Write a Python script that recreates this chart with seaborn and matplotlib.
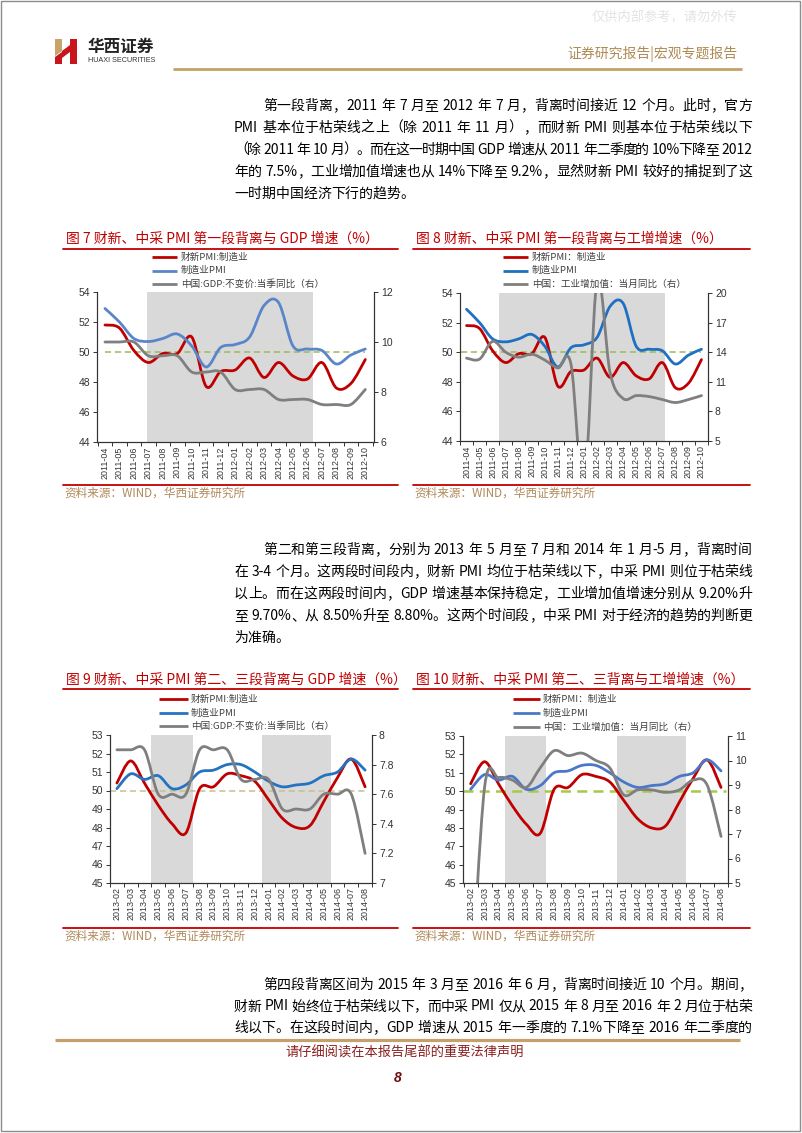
import numpy as np
import matplotlib
matplotlib.use('Agg')
import matplotlib.pyplot as plt
import seaborn as sns
from matplotlib.path import Path
from matplotlib.patches import PathPatch, Rectangle, Polygon
from matplotlib.font_manager import FontProperties

sns.set_theme(style='ticks')
plt.rcParams['font.family'] = ['Noto Sans CJK SC', 'DejaVu Sans']
plt.rcParams['axes.unicode_minus'] = False

W, H = 802, 1133

# ---------------- 数据 ----------------
months_a = ['2011-04', '2011-05', '2011-06', '2011-07', '2011-08', '2011-09', '2011-10',
            '2011-11', '2011-12', '2012-01', '2012-02', '2012-03', '2012-04', '2012-05',
            '2012-06', '2012-07', '2012-08', '2012-09', '2012-10']
caixin_a = [51.8, 51.6, 50.1, 49.3, 49.9, 49.9, 51.0, 47.7, 48.7, 48.8,
            49.6, 48.3, 49.3, 48.4, 48.2, 49.3, 47.6, 47.9, 49.5]
official_a = [52.9, 52.0, 50.9, 50.7, 50.9, 51.2, 50.4, 49.0, 50.3, 50.5,
              51.0, 53.1, 53.3, 50.4, 50.2, 50.1, 49.2, 49.8, 50.2]
gdp_a = [10.0, 10.0, 10.0, 9.45, 9.45, 9.45, 8.8, 8.8, 8.8, 8.1,
         8.1, 8.1, 7.7, 7.7, 7.7, 7.5, 7.5, 7.5, 8.1]
iva_a = [13.4, 13.3, 15.1, 14.0, 13.5, 13.8, 13.2, 12.4, 12.8, 0.0,
         21.3, 11.9, 9.3, 9.6, 9.5, 9.2, 8.9, 9.2, 9.6]

months_b = ['2013-02', '2013-03', '2013-04', '2013-05', '2013-06', '2013-07', '2013-08',
            '2013-09', '2013-10', '2013-11', '2013-12', '2014-01', '2014-02', '2014-03',
            '2014-04', '2014-05', '2014-06', '2014-07', '2014-08']
caixin_b = [50.4, 51.6, 50.4, 49.2, 48.2, 47.7, 50.1, 50.2, 50.9, 50.8,
            50.5, 49.5, 48.5, 48.0, 48.1, 49.4, 50.7, 51.7, 50.2]
official_b = [50.1, 50.9, 50.6, 50.8, 50.1, 50.3, 51.0, 51.1, 51.4, 51.4,
              51.0, 50.5, 50.2, 50.3, 50.4, 50.8, 51.0, 51.7, 51.1]
gdp_b = [7.9, 7.9, 7.9, 7.6, 7.6, 7.6, 7.9, 7.9, 7.9, 7.7,
         7.7, 7.7, 7.5, 7.5, 7.5, 7.6, 7.6, 7.6, 7.2]
iva_b = [0.0, 8.9, 9.3, 9.2, 8.9, 9.7, 10.4, 10.2, 10.3, 10.0,
         9.7, 8.6, 8.8, 8.8, 8.7, 8.8, 9.2, 9.0, 6.9]

legend_gdp_a = ['财新PMI:制造业', '制造业PMI', '中国:GDP:不变价:当季同比（右）']
legend_iva = ['财新PMI：制造业', '制造业PMI', '中国：工业增加值：当月同比（右）']

para1 = ['第一段背离，2011 年 7 月至 2012 年 7 月，背离时间接近 12 个月。此时，官方',
         'PMI 基本位于枯荣线之上（除 2011 年 11 月），而财新 PMI 则基本位于枯荣线以下',
         '（除 2011 年 10 月）。而在这一时期中国 GDP 增速从 2011 年二季度的 10%下降至 2012',
         '年的 7.5%，工业增加值增速也从 14%下降至 9.2%，显然财新 PMI 较好的捕捉到了这',
         '一时期中国经济下行的趋势。']
para2 = ['第二和第三段背离，分别为 2013 年 5 月至 7 月和 2014 年 1 月-5 月，背离时间',
         '在 3-4 个月。这两段时间段内，财新 PMI 均位于枯荣线以下，中采 PMI 则位于枯荣线',
         '以上。而在这两段时间内，GDP 增速基本保持稳定，工业增加值增速分别从 9.20%升',
         '至 9.70%、从 8.50%升至 8.80%。这两个时间段，中采 PMI 对于经济的趋势的判断更',
         '为准确。']
para3 = ['第四段背离区间为 2015 年 3 月至 2016 年 6 月，背离时间接近 10 个月。期间，',
         '财新 PMI 始终位于枯荣线以下，而中采 PMI 仅从 2015 年 8 月至 2016 年 2 月位于枯荣',
         '线以下。在这段时间内，GDP 增速从 2015 年一季度的 7.1%下降至 2016 年二季度的']

RED = '#c00000'
GRAY = '#7f7f7f'
SHADE = '#d9d9d9'
GOLD = '#c4a06a'

fig = plt.figure(figsize=(W / 100, H / 100), dpi=100)
page = fig.add_axes([0, 0, 1, 1])
page.set_xlim(0, W)
page.set_ylim(H, 0)
page.axis('off')
page.set_zorder(0)


def smooth_patch(x, y, color, lw):
    # Excel 风格平滑曲线（贝塞尔）
    n = len(x)
    verts = [(x[0], y[0])]
    codes = [Path.MOVETO]
    for i in range(n - 1):
        a = max(i - 1, 0)
        b = min(i + 2, n - 1)
        c1 = (x[i] + (x[i + 1] - x[a]) / 6, y[i] + (y[i + 1] - y[a]) / 6)
        c2 = (x[i + 1] - (x[b] - x[i]) / 6, y[i + 1] - (y[b] - y[i]) / 6)
        verts += [c1, c2, (x[i + 1], y[i + 1])]
        codes += [Path.CURVE4] * 3
    return PathPatch(Path(verts, codes), fill=False, edgecolor=color, lw=lw,
                     capstyle='round', joinstyle='round')


def draw_chart(box, labels, red, blue, gray, ylim_l, ticks_l, ylim_r, ticks_r,
               spans, xlim, blue_c, dash_c, dash_x, dash_lw=1.1):
    x0, x1, y0, y1 = box
    ax = fig.add_axes([x0 / W, 1 - y1 / H, (x1 - x0) / W, (y1 - y0) / H])
    ax.set_zorder(2)
    ax2 = ax.twinx()
    ax2.set_zorder(3)
    ax2.patch.set_visible(False)
    idx = np.arange(len(labels))
    for a, b in spans:
        ax.axvspan(a, b, color=SHADE, lw=0, zorder=0)
    ax.hlines(50, dash_x[0], dash_x[1], colors=dash_c, linestyles=(0, (4, 2.5)),
              lw=dash_lw, zorder=1)
    ax.add_patch(smooth_patch(idx, np.array(red), RED, 2.0))
    ax.add_patch(smooth_patch(idx, np.array(blue), blue_c, 2.0))
    ax2.add_patch(smooth_patch(idx, np.array(gray), GRAY, 2.0))
    ax.set_xlim(*xlim)
    ax.set_ylim(*ylim_l)
    ax2.set_ylim(*ylim_r)
    ax.set_yticks(ticks_l)
    ax.set_yticklabels([f'{v:g}' for v in ticks_l], fontsize=7.5,
                       family='Liberation Sans', color='#333333')
    ax2.set_yticks(ticks_r)
    ax2.set_yticklabels([f'{v:g}' for v in ticks_r], fontsize=7.5,
                        family='Liberation Sans', color='#333333')
    ax.set_xticks(idx)
    ax.set_xticklabels(labels, rotation=90, fontsize=6.4,
                       family='Liberation Sans', color='#333333')
    ax.set_xticks(np.arange(-0.5, len(labels), 1), minor=True)
    ax.tick_params(axis='x', which='major', length=0, pad=3)
    ax.tick_params(axis='x', which='minor', length=3, width=0.7, color='#333333')
    ax.tick_params(axis='y', length=3, width=0.7, pad=2, left=True, color='#333333')
    ax2.tick_params(axis='y', length=3, width=0.7, pad=2, right=True, color='#333333')
    for a in (ax, ax2):
        a.grid(False)
        for s in ('left', 'right', 'bottom'):
            a.spines[s].set_color('#333333')
            a.spines[s].set_linewidth(0.8)
    sns.despine(ax=ax, top=True, right=False, left=False)
    sns.despine(ax=ax2, top=True, right=False, left=False)
    return ax


def legend(x_line, x_text, rows, blue_c, texts):
    for y, c, t in zip(rows, [RED, blue_c, GRAY], texts):
        page.plot([x_line[0], x_line[1]], [y, y], color=c, lw=2.0, solid_capstyle='butt')
        page.text(x_text, y, t, fontsize=6.9, color='#404040', va='center', ha='left')


def frame_titles(x0, x1, y_title, y_under, y_bottom, title):
    page.text(x0 + 3, y_title, title, fontsize=10, color=RED, va='center', ha='left')
    page.plot([x0, x1], [y_under, y_under], color=RED, lw=1.3)
    page.plot([x0, x1], [y_bottom, y_bottom], color=RED, lw=1.3)
    page.text(x0 + 1, y_bottom + 8, '资料来源：WIND，华西证券研究所', fontsize=8.4,
              color='#b0895a', va='center', ha='left')


# ---------------- 正文（两端对齐） ----------------
renderer = fig.canvas.get_renderer()
body_fp = FontProperties(family='Noto Sans CJK SC', size=10)


def tokens(s):
    out, buf = [], ''
    for ch in s:
        if ch == ' ':
            if buf:
                out.append(buf)
                buf = ''
            out.append(' ')
        elif ord(ch) < 128:
            buf += ch
        else:
            if buf:
                out.append(buf)
                buf = ''
            out.append(ch)
    if buf:
        out.append(buf)
    return out


def put_line(s, x0, x1, y, justify):
    toks = tokens(s)
    widths = []
    for t in toks:
        if t == ' ':
            widths.append(4.0)
        else:
            widths.append(renderer.get_text_width_height_descent(t, body_fp, ismath=False)[0])
    gap = 0.0
    if justify and len(toks) > 1:
        gap = (x1 - x0 - sum(widths)) / (len(toks) - 1)
    x = x0
    for t, w in zip(toks, widths):
        if t != ' ':
            page.text(x, y, t, fontproperties=body_fp, color='black', va='baseline', ha='left')
        x += w + gap


def paragraph(lines, y0, step, last_justify=False):
    for i, s in enumerate(lines):
        x0 = 263 if i == 0 else 234
        just = (i < len(lines) - 1) or last_justify
        put_line(s, x0, 752, y0 + i * step + 5, just)


paragraph(para1, 105, 22)
paragraph(para2, 549, 22)
paragraph(para3, 984, 21.5, last_justify=True)

# ---------------- 页眉页脚 ----------------
page.add_patch(Rectangle((1, 1), W - 3, H - 3, fill=False, edgecolor='#8c8c8c', lw=1.0))
page.add_patch(Polygon([(55, 39), (62, 39), (62, 51), (55, 56)], closed=True, color='#c9a46a', lw=0))
page.add_patch(Polygon([(55, 57), (62, 52), (62, 64), (55, 64)], closed=True, color='#c8161d', lw=0))
page.add_patch(Polygon([(62, 51), (70, 45), (70, 52), (62, 58)], closed=True, color='#c8161d', lw=0))
page.add_patch(Polygon([(70, 39), (77, 39), (77, 64), (70, 64)], closed=True, color='#c8161d', lw=0))
page.text(88, 47, '华西证券', fontsize=12, fontweight='bold', color='#222222', va='center', ha='left')
page.text(88, 60.5, 'HUAXI SECURITIES', fontsize=5.2, color='#333333', va='center', ha='left',
          family='Liberation Sans')
page.text(737, 18, '仅供内部参考，请勿外传', fontsize=9.5, color='#e3e3e3', va='center', ha='right')
page.text(737, 54, '证券研究报告|宏观专题报告', fontsize=10, color='#b08a55', va='center', ha='right')
page.plot([173, 742], [68.5, 68.5], color=GOLD, lw=2.0, solid_capstyle='butt')

page.plot([55, 740], [1040, 1040], color=GOLD, lw=2.3, solid_capstyle='butt')
page.text(405, 1053, '请仔细阅读在本报告尾部的重要法律声明', fontsize=9.5, color='#8b1f1f',
          va='center', ha='center')
page.text(398, 1078, '8', fontsize=10, fontweight='bold', style='italic', color='#6b1010',
          va='center', ha='center', family='Liberation Sans')

# ---------------- 图 7 ----------------
frame_titles(63, 398, 239, 248.5, 485, '图 7 财新、中采 PMI 第一段背离与 GDP 增速（%）')
legend((152, 177), 181, (257, 270.5, 284), '#5a86c9', legend_gdp_a)
draw_chart((97, 374, 292, 442), months_a, caixin_a, official_a, gdp_a,
           (44, 54), [44, 46, 48, 50, 52, 54], (6, 12), [6, 8, 10, 12],
           [(2.94, 14.41)], (-0.55, 18.6), '#5a86c9', '#9bbb59', (0, 18))

# ---------------- 图 8 ----------------
frame_titles(413, 750, 239, 248.5, 485, '图 8 财新、中采 PMI 第一段背离与工增增速（%）')
legend((503, 528), 532, (257, 270.5, 284), '#1f70c1', legend_iva)
draw_chart((460, 708, 293, 441), months_a, caixin_a, official_a, iva_a,
           (44, 54), [44, 46, 48, 50, 52, 54], (5, 20), [5, 8, 11, 14, 17, 20],
           [(2.5, 15.2)], (-0.45, 18.2), '#1f70c1', '#9bbb59', (-0.45, 18))

# ---------------- 图 9 ----------------
frame_titles(63, 398, 680, 689, 928, '图 9 财新、中采 PMI 第二、三段背离与 GDP 增速（%）')
legend((159, 188), 191, (699, 713, 726), '#2573c0', legend_gdp_a)
draw_chart((110, 372, 735, 883), months_b, caixin_b, official_b, gdp_b,
           (45, 53), list(range(45, 54)), (7, 8), [7, 7.2, 7.4, 7.6, 7.8, 8],
           [(2.5, 5.5), (10.5, 15.5)], (-0.5, 18.4), '#2573c0', '#c8bf8e', (-0.5, 18.2))

# ---------------- 图 10 ----------------
frame_titles(413, 750, 680, 689, 928, '图 10 财新、中采 PMI 第二、三背离与工增增速（%）')
legend((513, 540), 543, (699, 713, 727), '#4a78c8', legend_iva)
draw_chart((463, 728, 736, 883), months_b, caixin_b, official_b, iva_b,
           (45, 53), list(range(45, 54)), (5, 11), list(range(5, 12)),
           [(2.45, 5.4), (10.5, 15.5)], (-0.55, 18.34), '#4a78c8', '#a8c84a', (-0.55, 18.34),
           dash_lw=1.8)

fig.savefig('out.png', dpi=100, facecolor='white')
